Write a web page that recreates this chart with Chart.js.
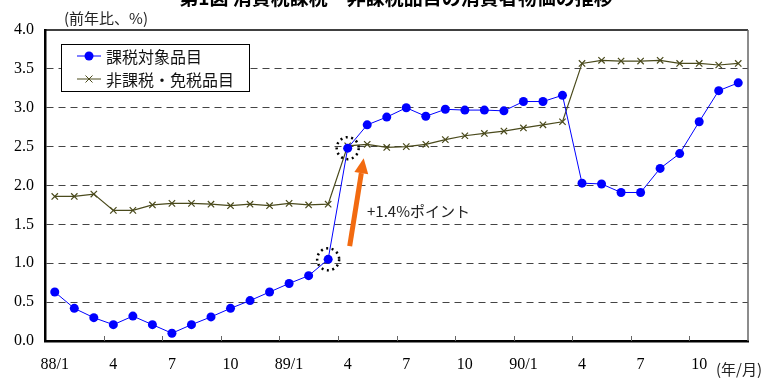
<!DOCTYPE html>
<html lang="ja">
<head>
    <meta charset="UTF-8">
    <title>消費者物価の推移</title>
    <script src="https://cdn.jsdelivr.net/npm/chart.js"></script>
    <style>
        body {
            margin: 0;
            padding: 0;
            background-color: #fff;
            overflow: hidden;
        }
        .wrap {
            position: relative;
            width: 776px;
            height: 380px;
            overflow: hidden;
        }
        .title {
            position: absolute;
            top: -13px;
            left: 0;
            width: 792px;
            text-align: center;
            font-family: "Noto Sans CJK JP", sans-serif;
            font-weight: bold;
            font-size: 19px;
            line-height: 19px;
            color: #000;
        }
        canvas {
            position: absolute;
            left: 0;
            top: 0;
        }
    </style>
</head>
<body>
    <div class="wrap">
        <canvas id="cpi-chart" width="776" height="380"></canvas>
        <div class="title">第1図 消費税課税・非課税品目の消費者物価の推移</div>
    </div>

    <script>
        // months 88/1 .. 90/12, only every third one is labelled
        const xLabels = ['88/1', '', '', '4', '', '', '7', '', '', '10', '', '',
                         '89/1', '', '', '4', '', '', '7', '', '', '10', '', '',
                         '90/1', '', '', '4', '', '', '7', '', '', '10', '', ''];

        // 課税対象品目 (前年比、%)
        const taxable = [0.63, 0.42, 0.30, 0.21, 0.32, 0.21, 0.10, 0.21, 0.31, 0.42, 0.52, 0.63,
                         0.74, 0.84, 1.05, 2.48, 2.78, 2.88, 3.00, 2.89, 2.98, 2.97, 2.97, 2.96,
                         3.08, 3.08, 3.16, 2.03, 2.02, 1.91, 1.91, 2.22, 2.41, 2.82, 3.22, 3.32];

        // 非課税・免税品目 (前年比、%)
        const nonTaxable = [1.86, 1.86, 1.89, 1.68, 1.68, 1.75, 1.77, 1.77, 1.76, 1.74, 1.76, 1.74,
                            1.77, 1.75, 1.76, 2.51, 2.53, 2.49, 2.50, 2.53, 2.59, 2.64, 2.67, 2.70,
                            2.74, 2.78, 2.82, 3.57, 3.61, 3.60, 3.60, 3.61, 3.57, 3.57, 3.55, 3.57];

        const seriesNames = ['課税対象品目', '非課税・免税品目'];
        const blue = '#0000ff';
        const olive = '#4a4a1c';
        const jpFont = '"Noto Sans CJK JP", sans-serif';

        // frame, inner ticks, legend box and the annotations
        const decoPlugin = {
            id: 'deco',
            afterDraw(chart) {
                const ctx = chart.ctx;
                const a = chart.chartArea;
                const x = chart.scales.x;
                const y = chart.scales.y;
                ctx.save();

                // top and right frame
                ctx.lineWidth = 1.5;
                ctx.strokeStyle = '#000';
                ctx.beginPath();
                ctx.moveTo(a.left, a.top);
                ctx.lineTo(a.right, a.top);
                ctx.stroke();
                ctx.strokeStyle = '#666';
                ctx.beginPath();
                ctx.moveTo(a.right, a.top);
                ctx.lineTo(a.right, a.bottom);
                ctx.stroke();

                // short inward ticks every 3 months, between categories
                ctx.strokeStyle = '#666';
                ctx.lineWidth = 1;
                for (let i = 3; i < xLabels.length; i += 3) {
                    const px = Math.round((x.getPixelForValue(i - 1) + x.getPixelForValue(i)) / 2) + 0.5;
                    ctx.beginPath();
                    ctx.moveTo(px, a.bottom);
                    ctx.lineTo(px, a.bottom - 5);
                    ctx.stroke();
                }

                // unit labels
                ctx.fillStyle = '#222';
                ctx.font = '15px ' + jpFont;
                ctx.textBaseline = 'middle';
                ctx.textAlign = 'left';
                ctx.fillText('(前年比、%)', 64, 18);
                ctx.fillText('(年/月)', 716, 369);

                // legend
                const lx = 61, ly = 44, lw = 188, lh = 47;
                ctx.fillStyle = '#fff';
                ctx.fillRect(lx, ly, lw, lh);
                ctx.strokeStyle = '#000';
                ctx.lineWidth = 1;
                ctx.strokeRect(lx + 0.5, ly + 0.5, lw, lh);
                const rows = [ly + 12, ly + 35];
                rows.forEach((ry, k) => {
                    ctx.strokeStyle = k === 0 ? blue : olive;
                    ctx.lineWidth = 1;
                    ctx.beginPath();
                    ctx.moveTo(77, ry);
                    ctx.lineTo(101, ry);
                    ctx.stroke();
                    if (k === 0) {
                        ctx.fillStyle = blue;
                        ctx.beginPath();
                        ctx.arc(89, ry, 4.5, 0, Math.PI * 2);
                        ctx.fill();
                    } else {
                        ctx.beginPath();
                        ctx.moveTo(85.5, ry - 3.5);
                        ctx.lineTo(92.5, ry + 3.5);
                        ctx.moveTo(92.5, ry - 3.5);
                        ctx.lineTo(85.5, ry + 3.5);
                        ctx.stroke();
                    }
                    ctx.fillStyle = '#111';
                    ctx.font = '16px ' + jpFont;
                    ctx.textAlign = 'left';
                    ctx.fillText(seriesNames[k], 106, ry + 1);
                });

                // dotted circles around 89/3 and 89/4
                ctx.strokeStyle = '#000';
                ctx.lineWidth = 2.5;
                ctx.setLineDash([2, 3.5]);
                [14, 15].forEach(i => {
                    ctx.beginPath();
                    ctx.arc(x.getPixelForValue(i), y.getPixelForValue(taxable[i]), 11, 0, Math.PI * 2);
                    ctx.stroke();
                });
                ctx.setLineDash([]);

                // orange arrow
                const x0 = x.getPixelForValue(15) + 2, y0 = y.getPixelForValue(1.22);
                const x1 = x.getPixelForValue(15) + 16, y1 = y.getPixelForValue(2.35);
                const ang = Math.atan2(y1 - y0, x1 - x0);
                const headL = 15, headW = 7;
                const bx = x1 - headL * Math.cos(ang), by = y1 - headL * Math.sin(ang);
                ctx.strokeStyle = '#f26a10';
                ctx.fillStyle = '#f26a10';
                ctx.lineWidth = 5;
                ctx.beginPath();
                ctx.moveTo(x0, y0);
                ctx.lineTo(bx, by);
                ctx.stroke();
                ctx.beginPath();
                ctx.moveTo(x1, y1);
                ctx.lineTo(bx + headW * Math.sin(ang), by - headW * Math.cos(ang));
                ctx.lineTo(bx - headW * Math.sin(ang), by + headW * Math.cos(ang));
                ctx.closePath();
                ctx.fill();

                ctx.fillStyle = '#222';
                ctx.font = '15px ' + jpFont;
                ctx.textAlign = 'left';
                ctx.fillText('+1.4%ポイント', 367, 211);

                ctx.restore();
            }
        };

        const ctx = document.getElementById('cpi-chart').getContext('2d');
        const cpiChart = new Chart(ctx, {
            type: 'line',
            data: {
                labels: xLabels,
                datasets: [{
                    label: seriesNames[0],
                    data: taxable,
                    borderColor: blue,
                    backgroundColor: blue,
                    borderWidth: 1,
                    pointStyle: 'circle',
                    pointRadius: 4.5,
                    pointBorderWidth: 0,
                    tension: 0
                }, {
                    label: seriesNames[1],
                    data: nonTaxable,
                    borderColor: olive,
                    backgroundColor: olive,
                    borderWidth: 1.2,
                    pointStyle: 'crossRot',
                    pointRadius: 4.5,
                    pointBorderWidth: 1.2,
                    tension: 0
                }]
            },
            options: {
                responsive: false,
                animation: false,
                layout: {
                    padding: { top: 30, right: 28, left: 0, bottom: 0 }
                },
                plugins: {
                    legend: { display: false },
                    tooltip: { enabled: false }
                },
                scales: {
                    x: {
                        offset: true,
                        afterFit: s => { s.height = 39; },
                        grid: { display: true, drawOnChartArea: false, drawTicks: false },
                        border: { display: true, color: '#000', width: 2.5 },
                        ticks: {
                            autoSkip: false,
                            maxRotation: 0,
                            padding: 14,
                            color: '#000',
                            font: { family: '"Liberation Serif", serif', size: 16 }
                        }
                    },
                    y: {
                        min: 0,
                        max: 4,
                        afterFit: s => { s.width = 45; },
                        grid: {
                            drawTicks: false,
                            lineWidth: 1,
                            color: c => (c.tick.value > 0 && c.tick.value < 4) ? '#444' : 'rgba(0,0,0,0)'
                        },
                        border: { display: true, color: '#000', width: 2.5, dash: [7, 5] },
                        ticks: {
                            stepSize: 0.5,
                            padding: 11,
                            color: '#000',
                            font: { family: '"Liberation Serif", serif', size: 16 },
                            callback: v => v.toFixed(1)
                        }
                    }
                }
            },
            plugins: [decoPlugin]
        });
    </script>
</body>
</html>
